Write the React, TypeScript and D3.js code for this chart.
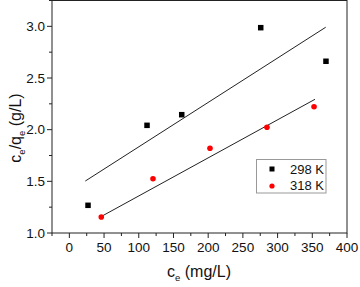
import React from "react";
import * as d3 from "d3";

const xTicks = [0, 50, 100, 150, 200, 250, 300, 350, 400];
const yTicks = [1.0, 1.5, 2.0, 2.5, 3.0];
const seriesNames = ["298 K", "318 K"];
const ce298 = [26.9, 111.9, 161.9, 275.7, 369.7];
const ratio298 = [1.268, 2.042, 2.145, 2.987, 2.662];
const ce318 = [46.0, 120.5, 202.6, 284.7, 352.5];
const ratio318 = [1.155, 1.525, 1.82, 2.023, 2.222];
const fit298X = [23, 369.3];
const fit298Y = [1.503, 2.991];
const fit318X = [48, 353.9];
const fit318Y = [1.167, 2.294];

const W = 360;
const H = 287;
const FONT = "'Liberation Sans', Arial, sans-serif";

export default function App() {
  const x = d3.scaleLinear().domain([-25, 400]).range([52, 347]);
  const y = d3.scaleLinear().domain([1.0, 3.25]).range([233, 0.5]);
  const xMinor = d3.range(-25, 401, 25);
  const yMinor = d3.range(1.0, 3.26, 0.25);
  const line = d3
    .line<[number, number]>()
    .x((d) => x(d[0]))
    .y((d) => y(d[1]));
  const fit1: [number, number][] = fit298X.map((v, i) => [v, fit298Y[i]]);
  const fit2: [number, number][] = fit318X.map((v, i) => [v, fit318Y[i]]);
  const sq = 5.5;
  const r = 2.8;
  const [x0, x1] = x.range();
  const [y0, y1] = y.range();
  return (
    <svg
      width={W}
      height={H}
      style={{ position: "absolute", left: 0, top: 0, background: "#fff" }}
      fontFamily={FONT}
    >
      <rect x={0} y={0} width={W} height={H} fill="#fff" />
      <rect
        x={x0}
        y={y1}
        width={x1 - x0}
        height={y0 - y1}
        fill="none"
        stroke="#222"
        strokeWidth={1}
      />
      {xMinor.map((t) => (
        <line
          key={"xm" + t}
          x1={x(t)}
          x2={x(t)}
          y1={y0}
          y2={y0 + (t % 50 === 0 ? 5 : 3)}
          stroke="#222"
        />
      ))}
      {yMinor.map((t) => (
        <line
          key={"ym" + t}
          x1={x0}
          x2={x0 - (Math.abs((t * 2) % 1) < 1e-6 ? 5 : 3)}
          y1={y(t)}
          y2={y(t)}
          stroke="#222"
        />
      ))}
      {xTicks.map((t) => (
        <text
          key={"xl" + t}
          x={x(t)}
          y={252}
          textAnchor="middle"
          fontSize={13.5}
          fill="#111"
        >
          {t}
        </text>
      ))}
      {yTicks.map((t) => (
        <text
          key={"yl" + t}
          x={45}
          y={y(t) + 4.8}
          textAnchor="end"
          fontSize={13.5}
          fill="#111"
        >
          {t.toFixed(1)}
        </text>
      ))}
      <path d={line(fit1) || ""} fill="none" stroke="#222" strokeWidth={1} />
      <path d={line(fit2) || ""} fill="none" stroke="#222" strokeWidth={1} />
      {ce298.map((v, i) => (
        <rect
          key={"s" + i}
          x={x(v) - sq / 2}
          y={y(ratio298[i]) - sq / 2}
          width={sq}
          height={sq}
          fill="#000"
        />
      ))}
      {ce318.map((v, i) => (
        <circle key={"c" + i} cx={x(v)} cy={y(ratio318[i])} r={r} fill="#ff0000" />
      ))}
      <g>
        <rect x={256.5} y={159.5} width={69.5} height={33.5} fill="#fff" stroke="#999" />
        <rect x={272 - 2.5} y={169 - 2.5} width={5} height={5} fill="#000" />
        <circle cx={272} cy={186} r={2.6} fill="#ff0000" />
        <text x={290} y={173.5} fontSize={13} fill="#111">
          {seriesNames[0]}
        </text>
        <text x={290} y={190} fontSize={13} fill="#111">
          {seriesNames[1]}
        </text>
      </g>
      <text x={199} y={277} textAnchor="middle" fontSize={16} fill="#111">
        c<tspan fontSize={9.5} dy={4}>e</tspan>
        <tspan dy={-4}> (mg/L)</tspan>
      </text>
      <text
        transform="translate(21,128) rotate(-90)"
        textAnchor="middle"
        fontSize={16}
        fill="#111"
      >
        c<tspan fontSize={9.5} dy={4}>e</tspan>
        <tspan dy={-4}>/q</tspan>
        <tspan fontSize={9.5} dy={4}>e</tspan>
        <tspan dy={-4}> (g/L)</tspan>
      </text>
    </svg>
  );
}
